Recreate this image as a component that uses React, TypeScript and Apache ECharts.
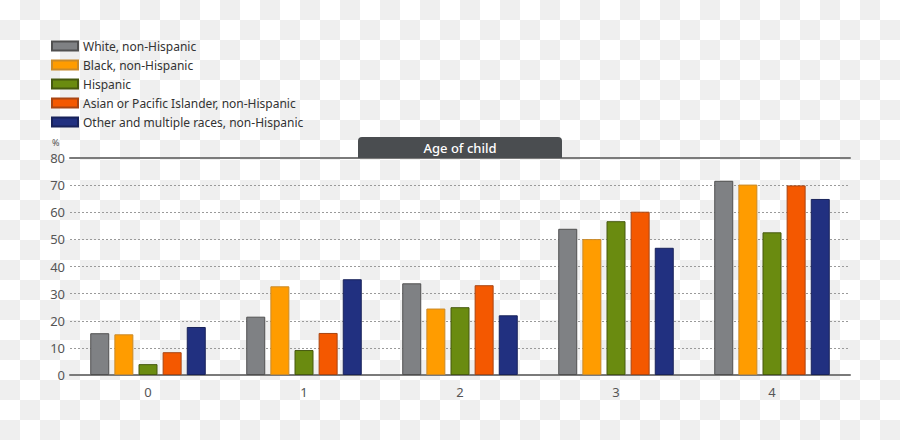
import React, { useEffect, useRef } from "react";
import * as echarts from "echarts";

const categories = ["0", "1", "2", "3", "4"];
const seriesNames = [
  "White, non-Hispanic",
  "Black, non-Hispanic",
  "Hispanic",
  "Asian or Pacific Islander, non-Hispanic",
  "Other and multiple races, non-Hispanic",
];
const white = [15.4, 21.5, 33.8, 53.9, 71.6];
const black = [15.0, 32.7, 24.5, 50.1, 70.2];
const hispanic = [4.0, 9.2, 25.0, 56.7, 52.6];
const asian = [8.4, 15.5, 33.1, 60.2, 69.9];
const other = [17.7, 35.3, 22.0, 46.9, 64.9];
const yTicks = { min: 0, max: 80, interval: 10 };

const colors = ["#7f8184", "#ff9c00", "#6a8b10", "#f45800", "#213080"];
const borders = ["#505050", "#c98a2a", "#46590f", "#a84512", "#18225a"];

const FONT = "Noto Sans";

export default function App() {
  const ref = useRef<HTMLDivElement>(null);
  useEffect(() => {
    if (!ref.current) return;
    const chart = echarts.init(ref.current, null, { renderer: "svg" });
    const values = [white, black, hispanic, asian, other];
    chart.setOption({
      animation: false,
      textStyle: { fontFamily: FONT },
      legend: {
        orient: "vertical",
        left: 51,
        top: 38,
        padding: 0,
        itemWidth: 26,
        itemHeight: 9,
        itemGap: 3,
        icon: "rect",
        textStyle: { fontSize: 12, lineHeight: 16, color: "#333", fontFamily: FONT },
        data: seriesNames,
      },
      grid: { left: 70, right: 50, top: 158, bottom: 65 },
      xAxis: [
        {
          type: "category",
          data: categories,
          axisLine: { show: true, lineStyle: { color: "#7a7a7a", width: 2 } },
          axisTick: { show: false },
          axisLabel: { fontSize: 13, color: "#555", margin: 10, fontFamily: FONT },
        },
        {
          type: "category",
          data: categories,
          position: "top",
          axisLine: { show: true, lineStyle: { color: "#7a7a7a", width: 2 } },
          axisTick: { show: false },
          axisLabel: { show: false },
        },
      ],
      yAxis: {
        type: "value",
        min: yTicks.min,
        max: yTicks.max,
        interval: yTicks.interval,
        axisLine: { show: false },
        axisTick: { show: false },
        axisLabel: { fontSize: 13, color: "#555", margin: 5, fontFamily: FONT },
        splitLine: { lineStyle: { color: "#9a9a9a", type: [2, 2], width: 1 } },
      },
      graphic: [
        {
          type: "rect",
          shape: { x: 358, y: 137, width: 204, height: 21, r: [4, 4, 0, 0] },
          style: { fill: "#4a4d50" },
          z: 100,
        },
        {
          type: "text",
          x: 460,
          y: 147.5,
          style: {
            text: "Age of child",
            fill: "#ffffff",
            font: `500 13px "${FONT}"`,
            textAlign: "center",
            textVerticalAlign: "middle",
          },
          z: 101,
        },
        {
          type: "text",
          x: 52,
          y: 138,
          style: { text: "%", fill: "#555", font: `9px "${FONT}"` },
        },
      ],
      series: seriesNames.map((name, i) => ({
        name,
        type: "bar",
        data: values[i],
        barWidth: 19,
        barGap: "27%",
        itemStyle: { color: colors[i], borderColor: borders[i], borderWidth: 1 },
      })),
    });
    return () => chart.dispose();
  }, []);
  return (
    <div
      style={{
        position: "absolute",
        left: 0,
        top: 0,
        width: 900,
        height: 440,
        background: "repeating-conic-gradient(#efefef 0 25%, #ffffff 0 50%) 0 0 / 40px 40px",
      }}
    >
      <div ref={ref} style={{ width: 900, height: 440 }} />
    </div>
  );
}
